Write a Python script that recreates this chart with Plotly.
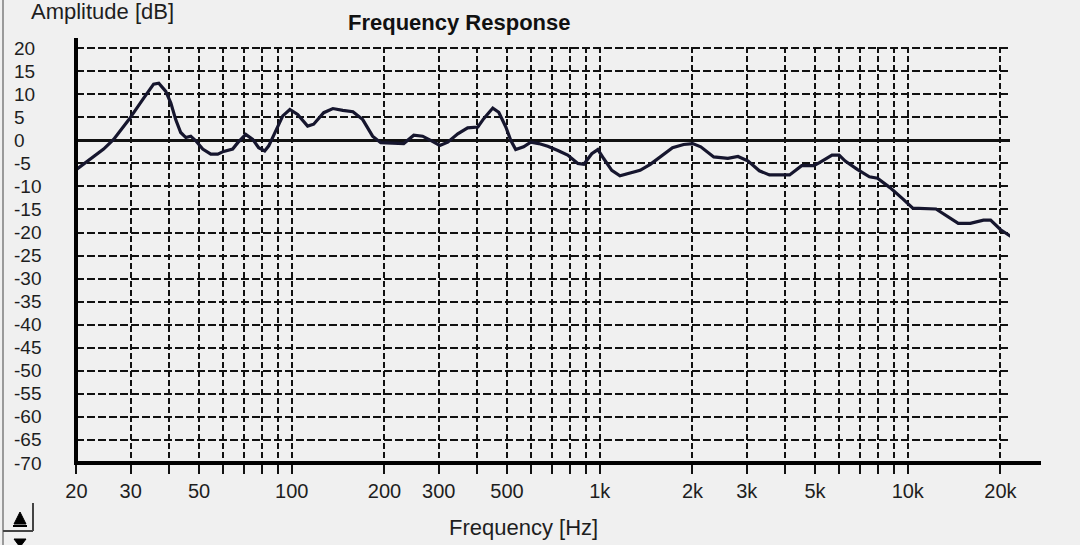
import plotly.graph_objects as go

# ---------------- data ----------------
freq_hz = [20, 22.8, 24.5, 26.4, 29.6, 33.1, 35.6, 37.0, 39.0, 40.5, 42.0, 43.6, 45.3, 47.0, 48.8,
           51.4, 54.6, 57.5, 60.1, 64.3, 66.8, 70.9, 74.7, 78.1, 81.7, 84.2, 88.7, 93.5, 98.6,
           104.5, 112.6, 117.8, 127, 136, 146.5, 158, 170, 183, 194.5, 214, 231, 249, 266, 282.5,
           302.5, 321, 346, 372.5, 402, 420, 449.5, 470, 495.5, 514, 533.5, 566, 597, 634, 678,
           731, 787, 849, 888, 942, 986, 1031, 1094, 1163, 1254, 1352, 1459, 1573, 1723, 1872,
           2004, 2128, 2345, 2606, 2811, 3033, 3297, 3556, 4134, 4525, 4955, 5187, 5678, 5986,
           6266, 6858, 7507, 7978, 8733, 9636, 10384, 12350, 13520, 14590, 15960, 17620, 18580,
           20020, 21780]
amp_db = [-6.3, -3.4, -1.9, 0.2, 4.5, 9.2, 12.2, 12.4, 10.6, 8.1, 4.5, 1.7, 0.6, 0.9, -0.1,
          -1.9, -3.0, -3.0, -2.4, -1.9, -0.5, 1.3, 0.2, -1.6, -2.3, -1.2, 2.0, 5.3, 6.7,
          5.6, 3.1, 3.5, 6.0, 6.9, 6.5, 6.2, 4.5, 0.9, -0.5, -0.7, -0.7, 1.1, 0.9, 0.0,
          -1.1, -0.4, 1.4, 2.7, 2.9, 4.7, 7.0, 6.1, 2.9, 0.0, -2.0, -1.4, -0.4, -0.7, -1.3,
          -2.2, -3.2, -5.0, -5.2, -2.9, -2.0, -4.0, -6.5, -7.7, -7.1, -6.5, -5.2, -3.6, -1.6, -0.9,
          -0.7, -1.4, -3.6, -3.9, -3.5, -4.5, -6.6, -7.5, -7.5, -5.5, -5.5, -4.8, -3.2, -3.2,
          -4.5, -6.3, -7.9, -8.2, -10.2, -12.7, -14.7, -14.9, -16.5, -18.0, -18.0, -17.3, -17.3,
          -19.4, -21.0]

y_tick_vals = [20, 15, 10, 5, 0, -5, -10, -15, -20, -25, -30, -35, -40, -45, -50, -55, -60, -65, -70]
y_grid_vals = [20, 15, 10, 5, 0, -5, -10, -15, -20, -25, -30, -35, -40, -45, -50, -55, -60, -65]
x_grid_vals = [20, 30, 40, 50, 60, 70, 80, 90, 100, 200, 300, 400, 500, 600, 700, 800, 900,
               1000, 2000, 3000, 4000, 5000, 6000, 7000, 8000, 9000, 10000, 20000]
x_label_map = {20: "20", 30: "30", 50: "50", 100: "100", 200: "200", 300: "300", 500: "500",
               1000: "1k", 2000: "2k", 3000: "3k", 5000: "5k", 10000: "10k", 20000: "20k"}

# ---------------- layout geometry ----------------
W, H = 1080, 545
L, R, T, B = 76, 1010, 47, 463
PW, PH = R - L, B - T


def px(xp):
    return (xp - L) / PW


def py(yp):
    return (B - yp) / PH


FONT = "Liberation Sans, Arial, sans-serif"
TXT = "#1e1e1e"
BG = "#f0f0f0"

fig = go.Figure()
fig.add_trace(go.Scatter(
    x=freq_hz, y=amp_db, mode="lines",
    line=dict(color="#16162e", width=3.2),
    hoverinfo="skip", showlegend=False,
))

fig.update_layout(
    width=W, height=H,
    margin=dict(l=L, r=W - R, t=T, b=H - B, pad=0, autoexpand=False),
    paper_bgcolor=BG, plot_bgcolor=BG,
    showlegend=False,
    font=dict(family=FONT, size=20, color=TXT),
    xaxis=dict(
        type="log",
        range=[1.2995, 4.3320],
        tickmode="array",
        tickvals=x_grid_vals,
        ticktext=[x_label_map.get(v, "") for v in x_grid_vals],
        showgrid=True, gridcolor="#111111", gridwidth=1.8, griddash="6px,3px",
        ticks="outside", ticklen=10, tickwidth=2, tickcolor="#111111",
        tickfont=dict(family=FONT, size=20, color=TXT),
        showline=False, zeroline=False, automargin=False,
    ),
    yaxis=dict(
        range=[-70, 20.25],
        tickmode="array",
        tickvals=y_grid_vals,
        showticklabels=False,
        showgrid=True, gridcolor="#111111", gridwidth=1.8, griddash="8px,3px",
        zeroline=True, zerolinecolor="#111111", zerolinewidth=2.5,
        showline=False, ticks="", automargin=False,
    ),
)

annotations = []
for v in y_tick_vals:
    annotations.append(dict(
        x=px(13), xref="paper", y=v, yref="y",
        text=str(v), showarrow=False, xanchor="left", yanchor="middle",
        font=dict(family=FONT, size=19, color=TXT),
        borderpad=0,
    ))
annotations.append(dict(
    x=px(29), xref="paper", y=py(12), yref="paper", text="Amplitude [dB]",
    showarrow=False, xanchor="left", yanchor="middle",
    font=dict(family=FONT, size=22, color=TXT),
))
annotations.append(dict(
    x=px(459), xref="paper", y=py(22), yref="paper", text="<b>Frequency Response</b>",
    showarrow=False, xanchor="center", yanchor="middle",
    font=dict(family=FONT, size=22, color="#111111"),
))
annotations.append(dict(
    x=px(523.5), xref="paper", y=py(527), yref="paper", text="Frequency [Hz]",
    showarrow=False, xanchor="center", yanchor="middle",
    font=dict(family=FONT, size=22, color=TXT),
))
fig.update_layout(annotations=annotations)

shapes = [
    # main axis lines
    dict(type="line", xref="paper", yref="paper", x0=0, x1=0, y0=0, y1=py(38),
         line=dict(color="#000000", width=4)),
    dict(type="line", xref="paper", yref="paper", x0=px(74), x1=px(1041), y0=0, y1=0,
         line=dict(color="#000000", width=4)),
    # window chrome on the left
    dict(type="line", xref="paper", yref="paper", x0=px(3), x1=px(3), y0=py(0), y1=py(545),
         line=dict(color="#9a9a9a", width=2)),
    dict(type="line", xref="paper", yref="paper", x0=px(33), x1=px(33), y0=py(503), y1=py(531),
         line=dict(color="#444444", width=2)),
    dict(type="line", xref="paper", yref="paper", x0=px(3), x1=px(33), y0=py(531), y1=py(531),
         line=dict(color="#444444", width=2)),
    dict(type="path", xref="paper", yref="paper",
         path=f"M {px(14)} {py(524)} L {px(26)} {py(524)} L {px(20)} {py(512)} Z",
         fillcolor="#000000", line=dict(color="#000000", width=1)),
    dict(type="line", xref="paper", yref="paper", x0=px(13), x1=px(27), y0=py(526), y1=py(526),
         line=dict(color="#000000", width=2)),
    dict(type="path", xref="paper", yref="paper",
         path=f"M {px(14)} {py(539)} L {px(26)} {py(539)} L {px(20)} {py(547)} Z",
         fillcolor="#000000", line=dict(color="#000000", width=1)),
]
fig.update_layout(shapes=shapes)

fig.write_html(
    "out.html",
    config={"displayModeBar": False},
    post_script="document.body.style.margin='0px';document.body.style.overflow='hidden';",
)
